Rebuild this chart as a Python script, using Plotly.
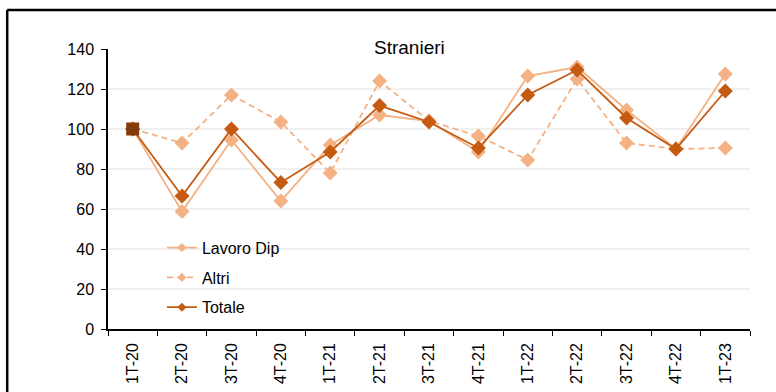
import plotly.graph_objects as go

trimestri = ["1T-20", "2T-20", "3T-20", "4T-20", "1T-21", "2T-21", "3T-21",
             "4T-21", "1T-22", "2T-22", "3T-22", "4T-22", "1T-23"]
lavoro_dip = [100, 58.7, 94.5, 64, 92, 107, 104, 88.5, 126.5, 131, 109.5, 90, 127.5]
altri = [100, 93, 117, 103.5, 78, 124, 104, 96.5, 84.5, 125, 93, 90, 90.5]
totale = [100, 66.5, 100, 73.3, 88.5, 111.7, 103.5, 90.5, 117, 129.5, 105.5, 90, 119]
y_ticks = [0, 20, 40, 60, 80, 100, 120, 140]

chiaro = "#F4B183"
scuro = "#C55A11"
base = "#843C0C"
font = "Arial, Liberation Sans, sans-serif"

fig = go.Figure()

# serie reali (senza legenda)
fig.add_trace(go.Scatter(x=trimestri, y=altri, mode="lines+markers", showlegend=False,
                         line=dict(color=chiaro, width=1.8, dash="6px,4px"),
                         marker=dict(symbol="diamond", size=11.5, color=chiaro)))
fig.add_trace(go.Scatter(x=trimestri, y=lavoro_dip, mode="lines+markers", showlegend=False,
                         line=dict(color=chiaro, width=1.8),
                         marker=dict(symbol="diamond", size=11.5, color=chiaro)))
fig.add_trace(go.Scatter(x=trimestri, y=totale, mode="lines+markers", showlegend=False,
                         line=dict(color=scuro, width=1.8),
                         marker=dict(symbol="diamond", size=11.5, color=scuro)))
# base 100
fig.add_trace(go.Scatter(x=trimestri[:1], y=totale[:1], mode="markers", showlegend=False,
                         marker=dict(symbol="square", size=13, color=base)))

# voci di legenda con marker piccoli
for nome, col, dash, g in [("Lavoro Dip", chiaro, "solid", "a"),
                           ("Altri", chiaro, "6px,4px", "b"),
                           ("Totale", scuro, "solid", "c")]:
    fig.add_trace(go.Scatter(x=[None], y=[None], mode="lines+markers", name=nome,
                             legendgroup=g,
                             line=dict(color=col, width=1.8, dash=dash),
                             marker=dict(symbol="diamond", size=7, color=col)))

fig.add_annotation(text="Stranieri", xref="paper", yref="paper", x=0.47, y=1.007,
                   xanchor="center", yanchor="middle", showarrow=False,
                   bgcolor="white", borderpad=3,
                   font=dict(family=font, size=19, color="black"))

# fondo bianco dietro la legenda (copre la griglia)
fig.add_shape(type="rect", xref="paper", yref="paper", x0=0.011, x1=0.30, y0=0.08, y1=0.36,
              fillcolor="white", line=dict(width=0), layer="between")

# cornice (solo bordo superiore e sinistro visibili)
fig.add_shape(type="line", xref="paper", yref="paper", x0=-0.157, x1=1.05, y0=1.139, y1=1.139,
              line=dict(color="black", width=2.5))
fig.add_shape(type="line", xref="paper", yref="paper", x0=-0.157, x1=-0.157, y0=-0.3, y1=1.139,
              line=dict(color="black", width=2.5))

fig.update_xaxes(range=[-0.5, len(trimestri) - 0.5], showline=True, linecolor="black",
                 linewidth=1.5, showgrid=False, automargin=False,
                 ticks="outside", tickson="boundaries", ticklen=5, tickcolor="black",
                 ticklabelstandoff=6,
                 tickangle=-90, tickfont=dict(family=font, size=16, color="black"))
fig.update_yaxes(range=[0, 140], tickvals=y_ticks, showline=True, linecolor="black",
                 linewidth=1.5, ticks="outside", ticklen=5, tickcolor="black",
                 ticklabelstandoff=4, automargin=False,
                 showgrid=True, gridcolor="#F0F0F0", gridwidth=1.5, zeroline=False,
                 tickfont=dict(family=font, size=16, color="black"))

fig.update_layout(
    width=776, height=392,
    margin=dict(l=108, r=26, t=49, b=63),
    paper_bgcolor="white", plot_bgcolor="white",
    showlegend=True,
    legend=dict(x=0.084, y=0.351, xanchor="left", yanchor="top", bgcolor="rgba(0,0,0,0)",
                traceorder="grouped", tracegroupgap=6,
                font=dict(family=font, size=16, color="black")),
)

fig.write_html("out.html", config={"displayModeBar": False},
               post_script="document.body.style.margin='0';")
